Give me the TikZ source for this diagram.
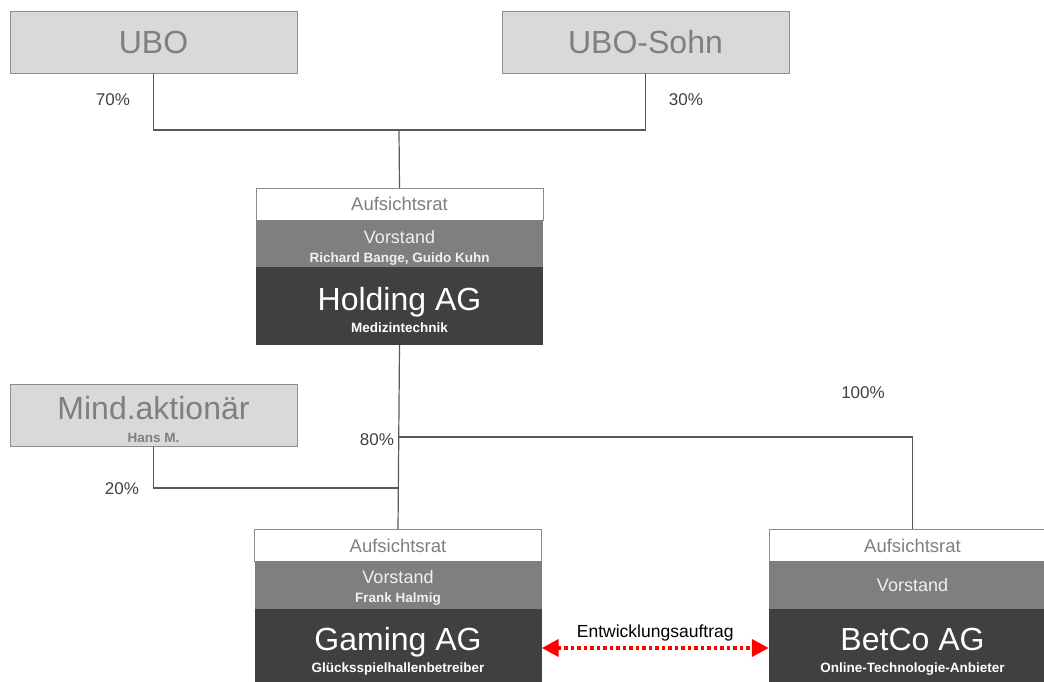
\documentclass[tikz,border=0pt]{standalone}
\usepackage{fontspec}
\setmainfont{Liberation Sans}
\usetikzlibrary{arrows.meta}
\definecolor{boxgray}{HTML}{D9D9D9}
\definecolor{edgegray}{HTML}{8C8C8C}
\definecolor{txtgray}{HTML}{7F7F7F}
\definecolor{midgray}{HTML}{7F7F7F}
\definecolor{darkbox}{HTML}{404040}
\definecolor{linegray}{HTML}{595959}
\definecolor{pcttext}{HTML}{404040}
\newcommand{\subtxt}[1]{{\fontsize{13.5}{16}\selectfont\bfseries #1}}

\tikzset{
  owner/.style={draw=edgegray, fill=boxgray, text=txtgray, minimum width=287pt,
    minimum height=62pt, inner sep=0pt, align=center, font=\fontsize{32}{23}\selectfont},
  arbox/.style={draw=edgegray, fill=white, text=txtgray, minimum width=287pt,
    minimum height=32pt, inner sep=0pt, font=\fontsize{18.5}{20}\selectfont},
  vsbox/.style={fill=midgray, text=white!94!black, minimum width=287pt,
    minimum height=47pt, inner sep=0pt, align=center, font=\fontsize{18}{19}\selectfont},
  agbox/.style={fill=darkbox, text=white, minimum width=287pt, minimum height=78pt,
    inner sep=0pt, align=center, text height=53pt, text depth=1pt,
    font=\fontsize{32}{22}\selectfont},
  pct/.style={text=pcttext, font=\fontsize{17}{19}\selectfont},
  link/.style={draw=linegray, line width=1.2pt},
  contract/.style={red, line width=4pt, dash pattern=on 3.5pt off 3pt,
    {Triangle[length=17pt,width=17pt]}-{Triangle[length=17pt,width=17pt]}},
}

\begin{document}
\begin{tikzpicture}[x=1pt,y=-1pt]
  \useasboundingbox (0,0) rectangle (1044,682);
  \clip (0,0) rectangle (1044,682);

  \node[owner] (ubo)  at (153.5,42) {UBO};
  \node[owner] (sohn) at (645.5,42) {UBO-Sohn};
  \node[owner, text height=55pt, text depth=0pt] (mind) at (153.5,415)
    {Mind.aktionär\\\subtxt{Hans M.}};

  \node[arbox] (holdAR) at (399.5,204) {Aufsichtsrat};
  \node[vsbox, text height=38pt, text depth=1pt] (holdVS) at (399.5,243.5)
    {Vorstand\\\subtxt{Richard Bange, Guido Kuhn}};
  \node[agbox] (holdAG) at (399.5,306) {Holding AG\\\subtxt{Medizintechnik}};

  \node[arbox] (gameAR) at (398,545.5) {Aufsichtsrat};
  \node[vsbox, minimum height=48pt, text height=36pt, text depth=2pt] (gameVS) at (398,585)
    {Vorstand\\\subtxt{Frank Halmig}};
  \node[agbox, text height=50pt] (gameAG) at (398,648)
    {Gaming AG\\\subtxt{Glücksspielhallenbetreiber}};

  \node[arbox] (betAR) at (912.5,545.5) {Aufsichtsrat};
  \node[vsbox, minimum height=48pt] (betVS) at (912.5,585) {Vorstand};
  \node[agbox, text height=50pt] (betAG) at (912.5,648)
    {BetCo AG\\\subtxt{Online-Technologie-Anbieter}};

  \coordinate (jtop) at (399,130);
  \coordinate (jright) at (399,437);
  \coordinate (jmind) at (399,488);

  \draw[link] (ubo.south) |- (jtop) -| (sohn.south);
  \draw[link] (jtop) -- (holdAR.north);
  \draw[link] (holdAG.south) -- (gameAR.north);
  \draw[link] (jright) -| (betAR.north);
  \draw[link] (mind.south) |- (jmind);

  \node[pct] (p70)  at (113,100) {70\%};
  \node[pct] (p30)  at (686,100) {30\%};
  \node[pct] (p100) at (863,393) {100\%};
  \node[pct] (p80)  at (377,440) {80\%};
  \node[pct] (p20)  at (122,489) {20\%};

  \draw[contract] (gameAG.east) -- node[above=2pt, text=black,
    font=\fontsize{17.5}{19}\selectfont] (contractlbl) {Entwicklungsauftrag} (betAG.west);
\end{tikzpicture}
\end{document}
